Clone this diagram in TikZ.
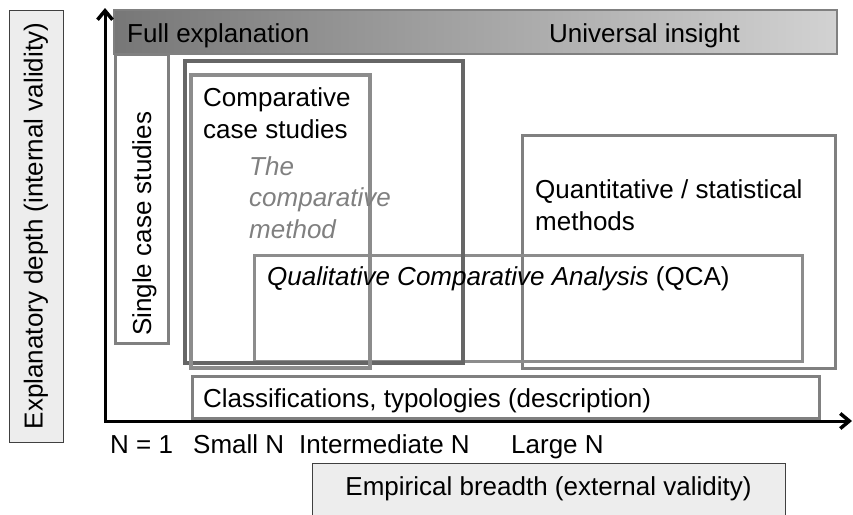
\documentclass[tikz,border=0pt]{standalone}
\usepackage{fontspec}
\setmainfont{Liberation Sans}
\usetikzlibrary{positioning,arrows.meta}

\definecolor{framegray}{HTML}{808080}
\definecolor{darkframe}{HTML}{666666}
\definecolor{lightframe}{HTML}{8C8C8C}
\definecolor{labelfill}{HTML}{EDEDED}
\definecolor{labelline}{HTML}{404040}
\definecolor{barleft}{HTML}{777777}
\definecolor{barright}{HTML}{D2D2D2}

\tikzset{
	txt/.style={inner sep=0pt, anchor=base west, align=left,
		font=\fontsize{26}{32}\selectfont},
	region/.style={draw=framegray, line width=3pt},
	axislabel/.style={draw=labelline, fill=labelfill, line width=1pt,
		inner sep=0pt, font=\fontsize{26}{32}\selectfont},
	axistip/.tip={Straight Barb[length=9pt,width=15pt,line width=3.5pt]},
	axis/.style={line width=3pt, line join=miter, axistip-axistip},
}

\begin{document}
\begin{tikzpicture}[x=1pt, y=-1pt]
	\useasboundingbox (0,0) rectangle (853,514);

	\node[axislabel, rotate=90, minimum width=432pt, minimum height=54pt] (depth) at (36,226) {Explanatory depth (internal validity)};
	\node[axislabel, minimum width=473pt, minimum height=52pt] (breadth) at (548.5,489) {Empirical breadth (external validity)};

	\draw[draw=framegray, line width=1.5pt, left color=barleft, right color=barright] (114,10) rectangle (837,54);
	\node[txt] (fullexp) at (127,42) {Full explanation};
	\node[txt] (universal) at (549,42) {Universal insight};

	\draw[region] (115,54) rectangle (168,343);
	\draw[region] (522,135) rectangle (835,368);
	\draw[region, draw=lightframe] (254,255) rectangle (802,361);
	\draw[region, draw=darkframe, line width=3.5pt] (185,61) rectangle (463,363);
	\draw[region, draw=lightframe, line width=3.5pt] (191,75) rectangle (370,368);
	\draw[region] (192,376) rectangle (819,418);

	% multi-line labels sit on the baseline of their last line
	\node[txt, rotate=90] (single) at (151,336) {Single case studies};
	\node[txt] (compcase) at (203,138) {Comparative\\case studies};
	\node[txt, text=framegray, font=\fontsize{26}{31.5}\selectfont\itshape] (compmethod) at (249,238) {The\\comparative\\method};
	\node[txt] (qca) at (267,285) {\textit{Qualitative Comparative Analysis} (QCA)};
	\node[txt] (quant) at (535,230) {Quantitative / statistical\\methods};
	\node[txt] (classif) at (203,407) {Classifications, typologies (description)};

	\coordinate (origin) at (105,421);
	\coordinate (ytop) at (105,8);
	\coordinate (xend) at (852,421);
	\draw[axis] (ytop) -- (origin) -- (xend);

	\node[txt] (nsingle) at (110,453) {N = 1};
	\node[txt] (nsmall) at (193,453) {Small N};
	\node[txt] (nmid) at (299,453) {Intermediate N};
	\node[txt] (nlarge) at (511,453) {Large N};
\end{tikzpicture}
\end{document}
